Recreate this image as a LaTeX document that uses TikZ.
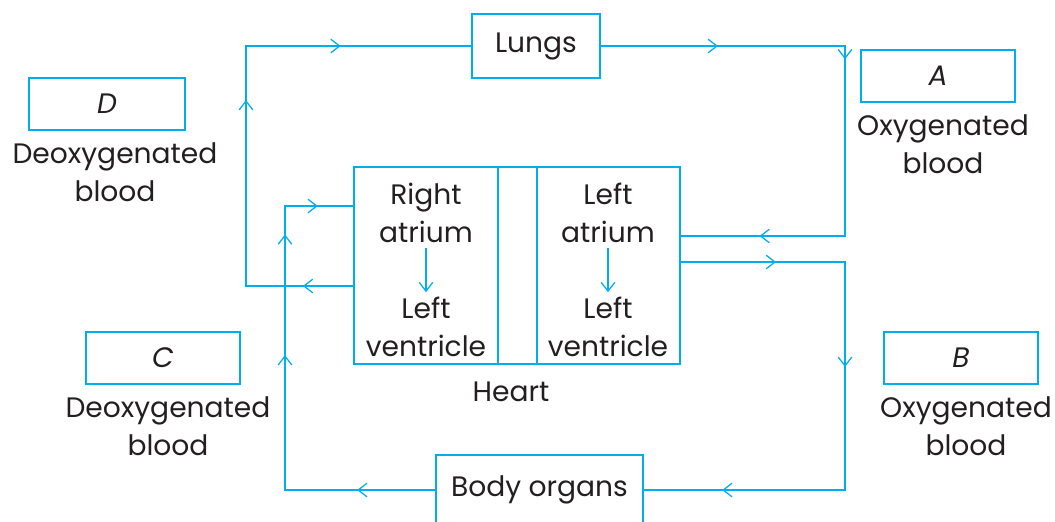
\documentclass[tikz,border=0pt]{standalone}
\usepackage{fontspec}
\setmainfont{Poppins}
\usetikzlibrary{arrows.meta,positioning,decorations.markings}
\definecolor{flowblue}{RGB}{0,174,239}
\definecolor{ink}{RGB}{35,31,32}

\begin{document}
\begin{tikzpicture}[x=0.025cm, y=-0.025cm,
    box/.style={draw=flowblue, line width=0.9pt, inner sep=0pt},
    lbl/.style={font=\fontsize{20}{27}\selectfont, text=ink, align=center},
    flow/.style={draw=flowblue, line width=0.9pt, line cap=rect},
    midarrow/.style={postaction={decorate, decoration={markings, mark=at position #1 with {\arrow{Straight Barb[length=2.2mm,width=3.4mm]}}}}}
]
\useasboundingbox (0,0) rectangle (1055,521);

% boxes
\node[box, lbl, minimum width=3.2cm, minimum height=1.6cm] (lungs) at (536,46) {Lungs};
\node[box, lbl, minimum width=3.85cm, minimum height=1.3cm] (abox) at (938,76) {\itshape A};
\node[box, lbl, minimum width=3.9cm, minimum height=1.3cm] (dbox) at (107,104) {\itshape D};
\node[box, lbl, minimum width=3.85cm, minimum height=1.3cm] (cbox) at (163,358) {\itshape C};
\node[box, lbl, minimum width=3.85cm, minimum height=1.3cm] (bbox) at (961,358) {\itshape B};
\node[box, lbl, minimum width=5.175cm, minimum height=1.75cm] (body) at (539.5,490) {Body organs};

% heart
\node[box, minimum width=3.6cm, minimum height=4.925cm] (rh) at (426,265.5) {};
\node[box, minimum width=0.975cm, minimum height=4.925cm] (sep) at (517.5,265.5) {};
\node[box, minimum width=3.575cm, minimum height=4.925cm] (lh) at (608.5,265.5) {};
\node[lbl] (ratext) at (426,213) {Right\\atrium};
\node[lbl] (rvtext) at (426,327) {Left\\ventricle};
\node[lbl] (latext) at (608,213) {Left\\atrium};
\node[lbl] (lvtext) at (608,327) {Left\\ventricle};
\node[lbl] (heart) at (511,392) {Heart};

\node[lbl] (atext) at (943,144) {Oxygenated\\blood};
\node[lbl] (dtext) at (115,172) {Deoxygenated\\blood};
\node[lbl] (ctext) at (168,426) {Deoxygenated\\blood};
\node[lbl] (btext) at (966,426) {Oxygenated\\blood};

\coordinate (tl) at (246,46);
\coordinate (tr) at (845,46);
\coordinate (rin) at (845,236);
\coordinate (rout) at (845,262);
\coordinate (br) at (845,490);
\coordinate (bl) at (285,490);
\coordinate (lin) at (285,206);
\coordinate (lout) at (246,286);

% circulation
\draw[flow, midarrow=0.47] (rh.west |- lout) -- (lout);
\draw[flow, midarrow=0.775] (lout) -- (tl);
\draw[flow, midarrow=0.42] (tl) -- (lungs.west);
\draw[flow, midarrow=0.48] (lungs.east) -- (tr);
\draw[flow, midarrow=0.07] (tr) -- (rin);
\draw[flow, midarrow=0.52] (rin) -- (lh.east |- rin);
\draw[flow, midarrow=0.58] (lh.east |- rout) -- (rout);
\draw[flow, midarrow=0.46] (rout) -- (br);
\draw[flow, midarrow=0.61] (br) -- (body.east);
\draw[flow, midarrow=0.52] (body.west) -- (bl);
\draw[flow, midarrow=0.475, midarrow=0.9] (bl) -- (lin);
\draw[flow, midarrow=0.48] (lin) -- (rh.west |- lin);

\draw[flow, line cap=butt, -{Straight Barb[length=2.2mm,width=3.4mm]}] (ratext) -- (rvtext);
\draw[flow, line cap=butt, -{Straight Barb[length=2.2mm,width=3.4mm]}] (latext) -- (lvtext);
\end{tikzpicture}
\end{document}
